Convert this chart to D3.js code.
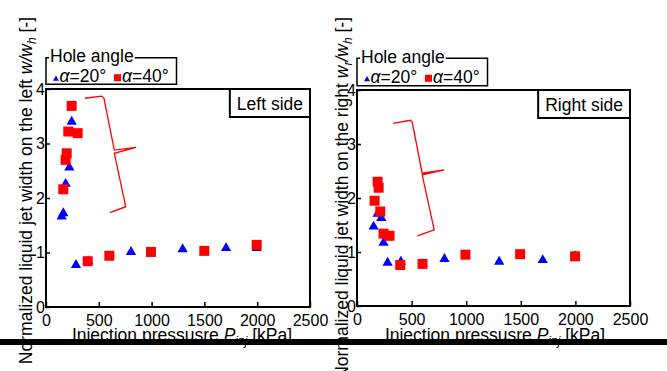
<!DOCTYPE html>
<html>
<head>
<meta charset="utf-8">
<script src="https://cdn.jsdelivr.net/npm/d3@7"></script>
<style>
body{margin:0;background:#fff;}
svg{display:block;font-family:"Liberation Sans",Arial,sans-serif;}
</style>
</head>
<body>
<div id="chart"></div>
<script>
// tick values
var xTicks = [0, 500, 1000, 1500, 2000, 2500];
var yTicks = [0, 1, 2, 3, 4];
var legendAngles = ["20°", "40°"];

// [pressure kPa, w/wh]
var left20 = [[149,1.66],[164,1.72],[186,2.26],[221,2.56],[243,3.40],[284,0.77],[400,0.84],[805,1.01],[1294,1.06],[1705,1.08],[1995,1.08]];
var left40 = [[164,2.16],[186,2.70],[196,2.82],[211,3.22],[243,3.69],[300,3.19],[395,0.84],[600,0.94],[994,1.01],[1499,1.03],[1995,1.14]];
var right20 = [[152,1.47],[189,1.71],[222,1.63],[243,1.17],[280,0.80],[402,0.82],[801,0.87],[1302,0.82],[1701,0.85],[1997,0.92]];
var right40 = [[161,1.95],[189,2.30],[198,2.19],[213,1.75],[243,1.34],[298,1.30],[396,0.76],[600,0.78],[993,0.95],[1494,0.96],[1997,0.92]];

// curly brace annotations, in data units
var leftBrace = [[369,3.83],[527,3.87],[549,3.83],[647,2.88],[852,2.93],[647,2.82],[755,1.84],[606,1.73]];
var rightBrace = [[332,3.38],[488,3.44],[506,3.40],[597,2.46],[799,2.52],[597,2.43],[707,1.41],[552,1.30]];

var W = 667, H = 371;
var svg = d3.select("#chart").append("svg").attr("width", W).attr("height", H);

function panel(o){
    var x = d3.scaleLinear().domain([0, 2500]).range([o.x0, o.x1]);
    var y = d3.scaleLinear().domain([0, 4]).range([o.y0, o.y1]);
    var g = svg.append("g");

    // axes with inward ticks
    var gx = g.append("g").attr("transform", "translate(0," + o.y0 + ")")
        .call(d3.axisBottom(x).tickValues(xTicks).tickFormat(d3.format("d")).tickSizeInner(-5).tickSizeOuter(0).tickPadding(8));
    var gy = g.append("g").attr("transform", "translate(" + o.x0 + ",0)")
        .call(d3.axisLeft(y).tickValues(yTicks).tickFormat(d3.format("d")).tickSizeInner(-4).tickSizeOuter(0).tickPadding(1));
    [gx, gy].forEach(function(a){
        a.select(".domain").remove();
        a.selectAll("line").attr("stroke", "#000").attr("stroke-width", 1.5);
        a.selectAll("text").attr("font-size", 16).attr("fill", "#000").attr("font-family", null);
    });

    g.append("rect").attr("x", o.x0).attr("y", o.y1)
        .attr("width", o.x1 - o.x0).attr("height", o.y0 - o.y1)
        .attr("fill", "none").attr("stroke", "#000").attr("stroke-width", 2);

    // brace
    g.append("path")
        .attr("d", d3.line().x(function(d){return x(d[0]);}).y(function(d){return y(d[1]);})(o.brace))
        .attr("fill", "none").attr("stroke", "#ff0000").attr("stroke-width", 1.3);

    // markers: triangles first, squares on top
    g.selectAll(".tri").data(o.tri).enter().append("path")
        .attr("transform", function(d){return "translate(" + x(d[0]) + "," + y(d[1]) + ")";})
        .attr("d", d3.symbol(d3.symbolTriangle, 46))
        .attr("fill", "#0000ff");
    g.selectAll(".sq").data(o.sq).enter().append("rect")
        .attr("x", function(d){return x(d[0]) - 5;})
        .attr("y", function(d){return y(d[1]) - 5;})
        .attr("width", 10).attr("height", 10)
        .attr("fill", "#ff0000");

    // side label box
    var st = g.append("text").attr("font-size", 17.5).attr("text-anchor", "middle").text(o.side);
    var sw = st.node().getComputedTextLength() + 14;
    g.append("rect").attr("x", o.x1 - sw).attr("y", o.y1).attr("width", sw).attr("height", 28)
        .attr("fill", "#fff").attr("stroke", "#000").attr("stroke-width", 2);
    st.raise().attr("x", o.x1 - sw / 2).attr("y", o.y1 + 21);

    // legend
    var lx = o.x0, ly = o.ly, lw = 130.5, lh = o.lh;
    var lg = svg.append("g");
    var title = lg.append("text").attr("x", lx + 4).attr("y", ly + 4.3).attr("font-size", 17.5).text("Hole angle");
    var tw = title.node().getComputedTextLength();
    lg.append("path")
        .attr("d", "M" + (lx + 3) + "," + ly + "H" + lx + "V" + (ly + lh) + "H" + (lx + lw) + "V" + ly + "H" + (lx + 5 + tw))
        .attr("fill", "none").attr("stroke", "#000").attr("stroke-width", 1.5);
    lg.append("path").attr("transform", "translate(" + (lx + 10) + "," + (ly + 21.3) + ")")
        .attr("d", d3.symbol(d3.symbolTriangle, 16)).attr("fill", "#0000ff");
    var t1 = lg.append("text").attr("x", lx + 13.5).attr("y", ly + 24.3).attr("font-size", 17.5);
    t1.append("tspan").attr("font-style", "italic").text("α");
    t1.append("tspan").text("=" + legendAngles[0]);
    lg.append("rect").attr("x", lx + 68).attr("y", ly + 16.5).attr("width", 7).attr("height", 7).attr("fill", "#ff0000");
    var t2 = lg.append("text").attr("x", lx + 76).attr("y", ly + 24.3).attr("font-size", 17.5);
    t2.append("tspan").attr("font-style", "italic").text("α");
    t2.append("tspan").text("=" + legendAngles[1]);

    // x title
    var xt = svg.append("text").attr("x", o.xLabelX).attr("y", 341).attr("font-size", 17.5).attr("text-anchor", "middle");
    xt.append("tspan").text("Injection pressusre ");
    xt.append("tspan").attr("font-style", "italic").text("P");
    xt.append("tspan").attr("font-style", "italic").attr("font-size", 12).attr("dy", 4).text("inj");
    xt.append("tspan").attr("dy", -4).text(" [kPa]");

    // y title
    var yt = svg.append("text").attr("transform", "translate(" + o.yLabelX + ",17) rotate(-90)")
        .attr("font-size", 17.5).attr("text-anchor", "end");
    yt.append("tspan").text("Normalized liquid jet width on the " + o.sideWord + " ");
    yt.append("tspan").attr("font-style", "italic").text("w");
    if (o.sub) {
        yt.append("tspan").attr("font-style", "italic").attr("font-size", 12).attr("dy", 4).text(o.sub);
        yt.append("tspan").attr("dy", -4).attr("font-style", "italic").text("/w");
    } else {
        yt.append("tspan").attr("font-style", "italic").text("/w");
    }
    yt.append("tspan").attr("font-style", "italic").attr("font-size", 12).attr("dy", 4).text("h");
    yt.append("tspan").attr("dy", -4).text(" [-]");
}

panel({x0: 46, x1: 310, y0: 307, y1: 89, ly: 57.7, lh: 26.5, tri: left20, sq: left40, brace: leftBrace,
    side: "Left side", sideWord: "left", sub: null, xLabelX: 182, yLabelX: 32});
panel({x0: 357, x1: 630, y0: 306, y1: 90, ly: 58.3, lh: 27.5, tri: right20, sq: right40, brace: rightBrace,
    side: "Right side", sideWord: "right", sub: "r", xLabelX: 495, yLabelX: 348});

// black bar across the bottom
svg.append("rect").attr("x", 0).attr("y", 339).attr("width", W).attr("height", 6).attr("fill", "#000");
</script>
</body>
</html>
